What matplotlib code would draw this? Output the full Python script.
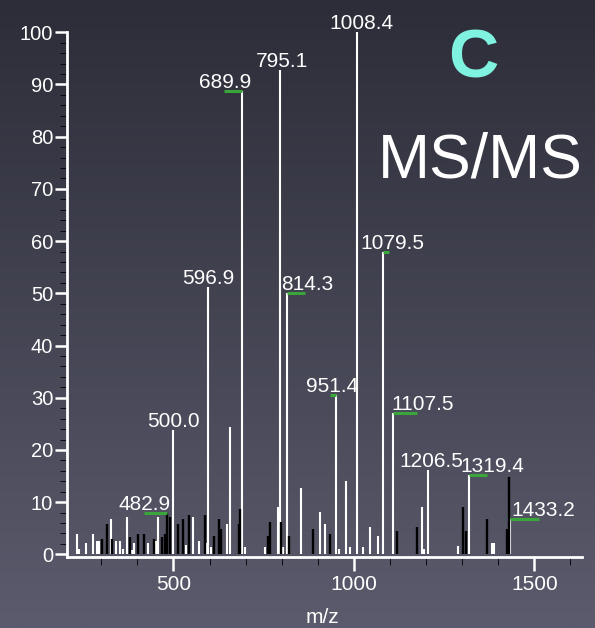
import numpy as np
import matplotlib
matplotlib.use("Agg")
from matplotlib import pyplot as plt
from matplotlib.ticker import MultipleLocator

plt.rcParams['font.family'] = ['Liberation Sans', 'DejaVu Sans']

# white (light) peaks: m/z and relative intensity
white_mz = [233, 238, 259, 276, 287, 294, 326, 342, 351, 359, 370, 384, 390, 429, 452,
            456, 500.0, 534, 555, 571, 593, 596.9, 605, 648, 658, 689.9, 698, 755, 789,
            795.1, 803, 814.3, 854, 906, 921, 951.4, 958, 978, 989, 1008.4, 1024, 1046,
            1067, 1079.5, 1107.5, 1190, 1193, 1206.5, 1289, 1319.4, 1383, 1388, 1433.2]
white_int = [3.9, 1.1, 2.1, 3.9, 2.6, 2.6, 6.7, 2.6, 2.6, 1.1, 7.2, 0.8, 2.1, 2.1, 2.5,
             7.2, 23.9, 1.7, 7.2, 2.6, 2.1, 51.2, 1.5, 5.8, 24.3, 88.8, 1.5, 1.5, 9.0,
             92.8, 1.5, 50.0, 12.7, 8.1, 5.8, 30.6, 1.0, 14.1, 1.5, 100.0, 1.5, 5.3,
             3.5, 57.9, 27.0, 9.0, 1.0, 16.1, 1.6, 15.2, 2.1, 2.1, 6.7]

# black (dark) peaks
black_mz = [303, 315, 331, 379, 402, 418, 446, 467, 476, 482.9, 490, 513, 527, 544, 587,
            613, 627, 631, 681, 685, 762, 767, 798, 821, 888, 934, 1120, 1175, 1302,
            1310, 1369, 1424, 1429]
black_int = [3.0, 5.8, 3.0, 3.4, 3.9, 3.9, 3.0, 3.4, 3.9, 8.0, 7.2, 5.8, 6.7, 7.6, 7.6,
             3.5, 6.7, 4.9, 5.8, 8.6, 3.5, 6.2, 6.2, 3.5, 4.9, 3.9, 4.4, 5.3, 9.0,
             4.4, 6.7, 4.8, 14.9]

# labelled peaks
label_mz = [482.9, 500.0, 596.9, 689.9, 795.1, 814.3, 951.4, 1008.4, 1079.5,
            1107.5, 1206.5, 1319.4, 1433.2]
label_int = [8.0, 23.9, 51.2, 88.8, 92.8, 50.0, 30.6, 100.0, 57.9,
             27.0, 16.1, 15.2, 6.7]
# horizontal shift of each label (points)
label_dx = [-16.5, 0, 0, -12.5, 1.5, 15, -3, 3, 7, 21.5, 2, 17, 24]

# green marks at peak tops: m/z extent relative to the peak
mark_mz = [482.9, 689.9, 814.3, 951.4, 1079.5, 1107.5, 1319.4, 1433.2]
mark_int = [8.0, 88.8, 50.0, 30.6, 57.9, 27.0, 15.2, 6.7]
mark_from = [-65, -49, 0, -17, 0, 0, 0, 0]
mark_to = [0, 0, 49, 0, 17, 66, 49, 80]

fig = plt.figure(figsize=(5.95, 6.28), dpi=100)

# background gradient
bg = fig.add_axes([0, 0, 1, 1])
grad = np.linspace(0, 1, 256).reshape(-1, 1)
top = np.array([0x2c, 0x2d, 0x38]) / 255
bot = np.array([0x5b, 0x5b, 0x6d]) / 255
img = top + (bot - top) * grad[:, :, None]
bg.imshow(img, aspect='auto', extent=[0, 1, 0, 1], origin='upper')
bg.axis('off')

ax = fig.add_axes([0.1126, 0.1131, 0.8655, 0.8355])
ax.patch.set_alpha(0)

ax.vlines(white_mz, 0, white_int, color='white', lw=1.5)
ax.vlines(black_mz, 0, black_int, color='black', lw=1.7)

for mz, h, a, b in zip(mark_mz, mark_int, mark_from, mark_to):
    ax.plot([mz + a, mz + b], [h, h], color='#3aa53a', lw=2.2, solid_capstyle='butt')

for mz, h, dx in zip(label_mz, label_int, label_dx):
    ax.annotate(f"{mz:.1f}", (mz, h), xytext=(dx, 2.2), textcoords='offset points',
                ha='center', va='baseline', color='white', fontsize=15)

ax.set_xlim(205, 1632)
ax.set_ylim(-0.5, 100)

for s in ['top', 'right']:
    ax.spines[s].set_visible(False)
for s in ['left', 'bottom']:
    ax.spines[s].set_color('white')
    ax.spines[s].set_linewidth(2)

ax.xaxis.set_major_locator(MultipleLocator(500))
ax.xaxis.set_minor_locator(MultipleLocator(100))
ax.yaxis.set_major_locator(MultipleLocator(10))
ax.yaxis.set_minor_locator(MultipleLocator(2))
ax.tick_params(colors='white', width=1.8)
ax.tick_params(axis='y', which='major', length=8.4, pad=1.5, labelsize=14.5)
ax.tick_params(axis='y', which='minor', length=5.3)
ax.tick_params(axis='x', which='major', length=9.8, pad=3.5, labelsize=15)
ax.tick_params(axis='x', which='minor', length=6.1)

fig.text(322.8 / 595, 5 / 628, "m/z", color='white', fontsize=15, ha='center', va='baseline')
fig.text(473 / 595, 1 - 77 / 628, "C", color='#80f2e0', fontsize=50, fontweight='bold',
         ha='center', va='baseline')
fig.text(480.5 / 595, 1 - 177 / 628, "MS/MS", color='white', fontsize=45, ha='center', va='baseline')

fig.savefig("out.png", dpi=100)
